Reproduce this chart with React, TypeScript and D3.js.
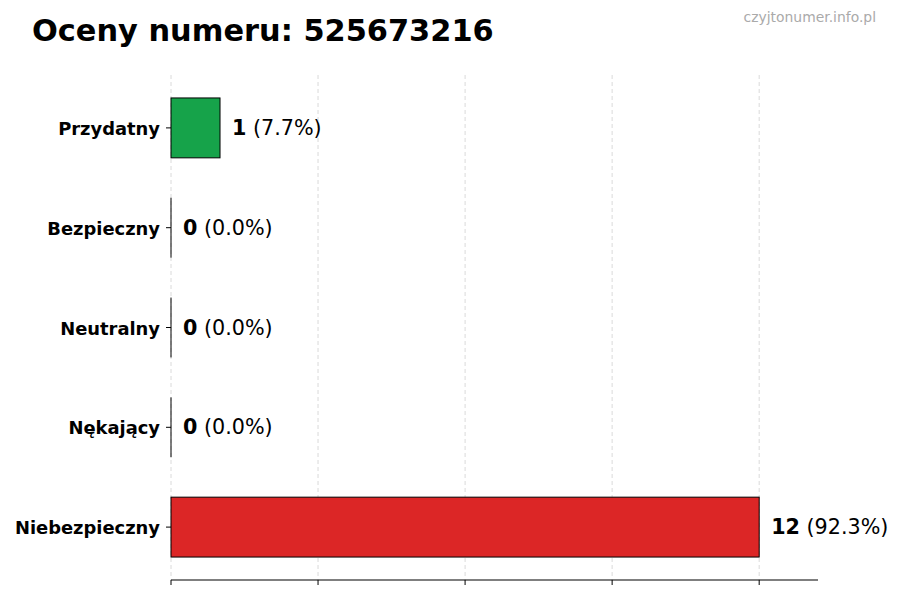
import React from 'react';
import * as d3 from 'd3';

// chart data
const categories = ['Przydatny', 'Bezpieczny', 'Neutralny', 'Nękający', 'Niebezpieczny'];
const counts = [1, 0, 0, 0, 12];
const xTicks = [0, 3, 6, 9, 12];
const phoneNumber = '525673216';

const barColors: Record<string, string> = {
  Przydatny: '#16a34a',
  Bezpieczny: '#16a34a',
  Neutralny: '#9ca3af',
  'Nękający': '#f59e0b',
  Niebezpieczny: '#dc2626',
};

const sizing = {
  width: 900,
  height: 600,
  left: 171,
  right: 818,
  top: 75,
  bottom: 580,
};

const font = 'DejaVu Sans, sans-serif';

export default function App(): React.ReactElement {
  const total = d3.sum(counts);

  const xScale = d3.scaleLinear()
    .domain([0, (d3.max(counts) as number) * 1.1])
    .range([sizing.left, sizing.right]);

  const yScale = d3.scaleBand<string>()
    .domain(categories)
    .range([sizing.top, sizing.bottom])
    .paddingInner(0.4)
    .paddingOuter(0.23);

  return (
    <svg
      width={sizing.width}
      height={sizing.height}
      style={{ position: 'absolute', left: 0, top: 0, background: '#fff' }}
      fontFamily={font}
    >
      {/* title + watermark */}
      <text x={32} y={41} fontSize={30.4} fontWeight="bold" fill="#000">
        {`Oceny numeru: ${phoneNumber}`}
      </text>
      <text x={876} y={22} fontSize={13.9} fill="#aaaaaa" textAnchor="end">
        czyjtonumer.info.pl
      </text>

      {/* vertical grid */}
      {xTicks.map(t => (
        <line
          key={`g${t}`}
          x1={xScale(t)}
          x2={xScale(t)}
          y1={sizing.top}
          y2={sizing.bottom}
          stroke="#d0d0d0"
          strokeWidth={0.8}
          strokeDasharray="4,3"
        />
      ))}

      {/* bars */}
      {categories.map((c, i) => {
        const y = yScale(c) as number;
        const w = xScale(counts[i]) - xScale(0);
        if (w <= 0) {
          return (
            <line
              key={c}
              x1={xScale(0)}
              x2={xScale(0)}
              y1={y}
              y2={y + yScale.bandwidth()}
              stroke="#000"
              strokeWidth={1}
            />
          );
        }
        return (
          <rect
            key={c}
            x={xScale(0)}
            y={y}
            width={w}
            height={yScale.bandwidth()}
            fill={barColors[c]}
            stroke="#000"
            strokeWidth={1}
          />
        );
      })}

      {/* value labels */}
      {categories.map((c, i) => {
        const y = (yScale(c) as number) + yScale.bandwidth() / 2;
        const pct = total ? (counts[i] / total) * 100 : 0;
        return (
          <text key={`v${c}`} x={xScale(counts[i]) + 12} y={y + 7} fontSize={20.7} fill="#000">
            <tspan fontWeight="bold">{counts[i]}</tspan>
            <tspan>{` (${pct.toFixed(1)}%)`}</tspan>
          </text>
        );
      })}

      {/* y axis ticks + labels */}
      {categories.map(c => {
        const y = (yScale(c) as number) + yScale.bandwidth() / 2;
        return (
          <g key={`y${c}`}>
            <line x1={sizing.left - 5} x2={sizing.left} y1={y} y2={y} stroke="#000" strokeWidth={1} />
            <text x={sizing.left - 11} y={y + 7} fontSize={17.9} fontWeight="bold" textAnchor="end" fill="#000">
              {c}
            </text>
          </g>
        );
      })}

      {/* x axis */}
      <line x1={sizing.left} x2={sizing.right} y1={sizing.bottom} y2={sizing.bottom} stroke="#000" strokeWidth={1.2} />
      {xTicks.map(t => (
        <line
          key={`t${t}`}
          x1={xScale(t)}
          x2={xScale(t)}
          y1={sizing.bottom}
          y2={sizing.bottom + 5}
          stroke="#000"
          strokeWidth={1}
        />
      ))}
    </svg>
  );
}
